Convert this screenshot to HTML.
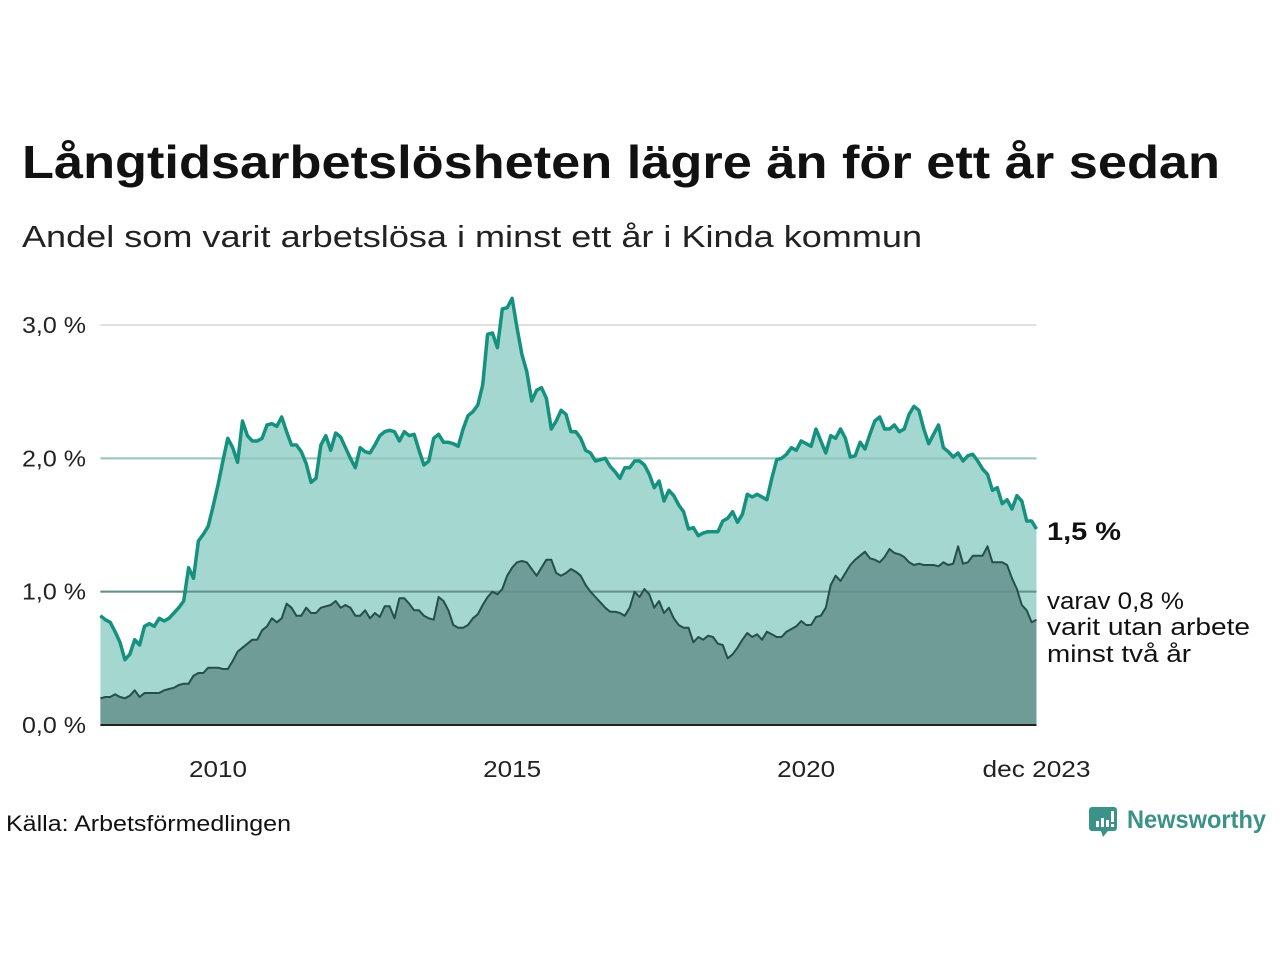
<!DOCTYPE html>
<html><head><meta charset="utf-8"><style>
body{margin:0;background:#fff;width:1280px;height:960px;overflow:hidden}
svg text{font-family:"Liberation Sans",sans-serif}
</style></head><body>
<svg id="chart" width="1280" height="960" xmlns="http://www.w3.org/2000/svg">
<text x="22" y="178" font-size="46" font-weight="bold" fill="#111" textLength="1198" lengthAdjust="spacingAndGlyphs">Långtidsarbetslösheten lägre än för ett år sedan</text>
<text x="22" y="247" font-size="31" fill="#222" textLength="900" lengthAdjust="spacingAndGlyphs">Andel som varit arbetslösa i minst ett år i Kinda kommun</text>
<g id="grid"></g>
<g id="areas"></g>
<g id="yaxis"></g>
<g id="xaxis"></g>
<text x="1047" y="540" font-size="25" font-weight="bold" fill="#111" textLength="74" lengthAdjust="spacingAndGlyphs">1,5 %</text>
<text font-size="24" fill="#111"><tspan x="1047" y="609" textLength="137" lengthAdjust="spacingAndGlyphs">varav 0,8 %</tspan><tspan x="1047" y="635" textLength="203" lengthAdjust="spacingAndGlyphs">varit utan arbete</tspan><tspan x="1047" y="662" textLength="144" lengthAdjust="spacingAndGlyphs">minst två år</tspan></text>
<text x="6" y="831" font-size="22" fill="#111" textLength="285" lengthAdjust="spacingAndGlyphs">Källa: Arbetsförmedlingen</text>
<g>
<path d="M1092 807 h22 a3 3 0 0 1 3 3 v18 a3 3 0 0 1 -3 3 h-6 l-5 6 l-2 -6 h-9 a3 3 0 0 1 -3 -3 v-18 a3 3 0 0 1 3 -3z" fill="#3b9288"/>
<rect x="1096" y="821" width="3" height="6" fill="#fff"/><rect x="1101" y="818" width="3" height="9" fill="#fff"/><rect x="1106" y="820" width="3" height="7" fill="#fff"/><rect x="1111" y="811" width="3" height="11" fill="#fff"/><rect x="1111" y="824" width="3" height="3" fill="#fff"/>
<text x="1127" y="828" font-size="25" font-weight="bold" fill="#3b9288" textLength="139" lengthAdjust="spacingAndGlyphs">Newsworthy</text>
</g>
</svg>
<script>
const yTicks=[0,1,2,3];
const yTickLabels=["0,0 %","1,0 %","2,0 %","3,0 %"];
const xTickMonths=[24,84,144,191];
const xTickLabels=["2010","2015","2020","dec 2023"];
const mainSeries=[
0.82,0.79,0.77,0.70,0.62,0.49,0.53,0.64,0.60,0.74,0.76,0.74,
0.80,0.78,0.80,0.84,0.88,0.93,1.18,1.10,1.38,1.43,1.49,1.64,
1.80,1.98,2.15,2.08,1.97,2.28,2.17,2.13,2.13,2.15,2.25,2.26,
2.24,2.31,2.20,2.10,2.10,2.05,1.96,1.82,1.85,2.10,2.17,2.06,
2.19,2.16,2.08,2.00,1.93,2.08,2.05,2.04,2.10,2.17,2.20,2.21,
2.20,2.13,2.20,2.17,2.18,2.06,1.95,1.98,2.15,2.18,2.12,2.12,
2.11,2.09,2.22,2.32,2.35,2.40,2.55,2.93,2.94,2.83,3.12,3.13,
3.20,2.98,2.78,2.65,2.43,2.51,2.53,2.45,2.22,2.28,2.36,2.33,
2.20,2.20,2.15,2.06,2.04,1.98,1.99,2.00,1.94,1.90,1.85,1.93,
1.93,1.98,1.98,1.95,1.88,1.78,1.83,1.68,1.76,1.72,1.65,1.60,
1.47,1.48,1.42,1.44,1.45,1.45,1.45,1.53,1.55,1.60,1.52,1.58,
1.73,1.71,1.73,1.71,1.69,1.85,1.99,2.00,2.03,2.08,2.06,2.13,
2.11,2.09,2.22,2.13,2.04,2.17,2.15,2.22,2.15,2.01,2.02,2.12,
2.07,2.18,2.28,2.31,2.22,2.22,2.25,2.20,2.22,2.33,2.39,2.36,
2.22,2.11,2.18,2.25,2.08,2.05,2.01,2.04,1.98,2.02,2.03,1.98,
1.92,1.88,1.76,1.78,1.66,1.69,1.62,1.72,1.68,1.53,1.53,1.47];
const twoYearSeries=[
0.20,0.21,0.21,0.23,0.21,0.20,0.22,0.26,0.21,0.24,0.24,0.24,
0.24,0.26,0.27,0.28,0.30,0.31,0.31,0.37,0.39,0.39,0.43,0.43,
0.43,0.42,0.42,0.48,0.55,0.58,0.61,0.64,0.64,0.71,0.74,0.80,
0.77,0.80,0.91,0.88,0.82,0.82,0.88,0.84,0.84,0.88,0.89,0.90,
0.93,0.88,0.90,0.88,0.82,0.82,0.86,0.80,0.84,0.81,0.89,0.89,
0.80,0.95,0.95,0.91,0.86,0.86,0.82,0.80,0.79,0.96,0.93,0.86,
0.75,0.73,0.73,0.75,0.80,0.83,0.90,0.96,1.00,0.98,1.02,1.12,
1.18,1.22,1.23,1.22,1.17,1.12,1.18,1.24,1.24,1.14,1.12,1.14,
1.17,1.15,1.12,1.05,1.00,0.96,0.92,0.88,0.85,0.85,0.84,0.82,
0.88,1.00,0.96,1.02,0.98,0.88,0.93,0.84,0.88,0.80,0.75,0.73,
0.73,0.62,0.66,0.64,0.67,0.66,0.61,0.60,0.50,0.53,0.58,0.64,
0.69,0.66,0.68,0.64,0.70,0.68,0.66,0.66,0.70,0.72,0.74,0.78,
0.75,0.75,0.81,0.82,0.88,1.05,1.12,1.08,1.14,1.20,1.24,1.27,
1.30,1.25,1.24,1.22,1.26,1.32,1.29,1.28,1.26,1.22,1.20,1.21,
1.20,1.20,1.20,1.19,1.22,1.20,1.21,1.34,1.21,1.22,1.27,1.27,
1.27,1.34,1.22,1.22,1.22,1.20,1.10,1.02,0.90,0.86,0.77,0.79];

const NS="http://www.w3.org/2000/svg";
const x0=100.4,x1=1036.5,y0=725,y3=325;
function xs(i){return x0+(x1-x0)*i/191;}
function ys(v){return y0-(y0-y3)*v/3;}
function mk(t,a,p){const e=document.createElementNS(NS,t);for(const k in a)e.setAttribute(k,a[k]);p.appendChild(e);return e;}
const grid=document.getElementById('grid'),areas=document.getElementById('areas'),ya=document.getElementById('yaxis'),xa=document.getElementById('xaxis');
yTicks.forEach((v,i)=>{
  if(v>0){const l=mk('line',{x1:x0,x2:x1,y1:ys(v),y2:ys(v),stroke:'#e0e0e0','stroke-width':2},grid);
  
  }
  const t=mk('text',{x:22,y:ys(v)+8,'font-size':23,fill:'#222',textLength:64,lengthAdjust:'spacingAndGlyphs'},ya);t.textContent=yTickLabels[i];
  
  
});
xTickMonths.forEach((m,i)=>{
  const w=xTickLabels[i].length>4?108:58;
  const t=mk('text',{x:xs(m),y:777,'font-size':23,fill:'#222','text-anchor':'middle',textLength:w,lengthAdjust:'spacingAndGlyphs'},xa);t.textContent=xTickLabels[i];
  
  
});
function pts(arr){return arr.map((v,i)=>xs(i).toFixed(1)+','+ys(v).toFixed(1)).join(' ');}
function area(arr,fill,name){const p=mk('polygon',{points:xs(0)+','+y0+' '+pts(arr)+' '+xs(arr.length-1)+','+y0,fill:fill},areas);
  
  }
area(mainSeries,'#a5d7d1','main-area');
mk('line',{x1:x0,x2:x1,y1:ys(1),y2:ys(1),stroke:'#8fc2bc','stroke-width':2},areas);
mk('line',{x1:x0,x2:x1,y1:ys(2),y2:ys(2),stroke:'#94c6c0','stroke-width':2},areas);
area(twoYearSeries,'#6f9c96','two-year-area');
mk('line',{x1:x0,x2:x1,y1:ys(1),y2:ys(1),stroke:'#66918b','stroke-width':2},areas);
const l1=mk('polyline',{points:pts(mainSeries),fill:'none',stroke:'#16917f','stroke-width':3.5,'stroke-linejoin':'round'},areas);


const l2=mk('polyline',{points:pts(twoYearSeries),fill:'none',stroke:'#254f49','stroke-width':2,'stroke-linejoin':'round'},areas);


mk('line',{x1:x0,x2:x1,y1:y0,y2:y0,stroke:'#222','stroke-width':2},areas);
</script>
</body></html>
